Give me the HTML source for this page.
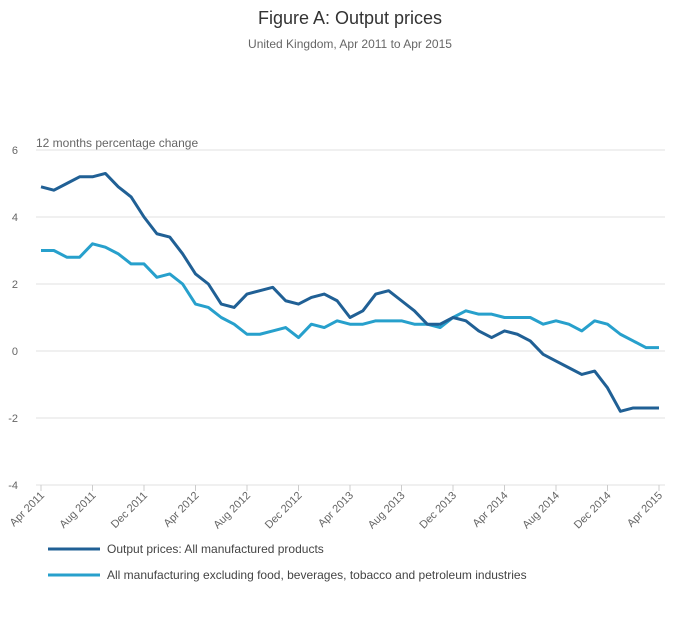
<!DOCTYPE html>
<html><head><meta charset="utf-8"><style>
body{margin:0;background:#fff;font-family:"Liberation Sans",sans-serif;}
svg text{font-family:"Liberation Sans",sans-serif;}
</style></head><body>
<svg id="chart" width="700" height="635">
<text x="350" y="24" text-anchor="middle" font-size="18" fill="#333">Figure A: Output prices</text>
<text x="350" y="48" text-anchor="middle" font-size="12" fill="#666">United Kingdom, Apr 2011 to Apr 2015</text>
<text x="36" y="147" font-size="12" fill="#666">12 months percentage change</text>
<g id="grid"></g><g id="xax"></g><g id="lines"></g>
<g>
<line x1="48" y1="549" x2="100" y2="549" stroke="#206095" stroke-width="3"/>
<text x="107" y="553" font-size="12" fill="#444">Output prices: All manufactured products</text>
<line x1="48" y1="575" x2="100" y2="575" stroke="#27a0cc" stroke-width="3"/>
<text x="107" y="579" font-size="12" fill="#444">All manufacturing excluding food, beverages, tobacco and petroleum industries</text>
</g>
</svg>
<script>
const months=["Apr 2011","Aug 2011","Dec 2011","Apr 2012","Aug 2012","Dec 2012","Apr 2013","Aug 2013","Dec 2013","Apr 2014","Aug 2014","Dec 2014","Apr 2015"];
const yTicks=[-4,-2,0,2,4,6];
const allManufactured=[4.9,4.8,5.0,5.2,5.2,5.3,4.9,4.6,4.0,3.5,3.4,2.9,2.3,2.0,1.4,1.3,1.7,1.8,1.9,1.5,1.4,1.6,1.7,1.5,1.0,1.2,1.7,1.8,1.5,1.2,0.8,0.8,1.0,0.9,0.6,0.4,0.6,0.5,0.3,-0.1,-0.3,-0.5,-0.7,-0.6,-1.1,-1.8,-1.7,-1.7,-1.7];
const excluding=[3.0,3.0,2.8,2.8,3.2,3.1,2.9,2.6,2.6,2.2,2.3,2.0,1.4,1.3,1.0,0.8,0.5,0.5,0.6,0.7,0.4,0.8,0.7,0.9,0.8,0.8,0.9,0.9,0.9,0.8,0.8,0.7,1.0,1.2,1.1,1.1,1.0,1.0,1.0,0.8,0.9,0.8,0.6,0.9,0.8,0.5,0.3,0.1,0.1];
const NS="http://www.w3.org/2000/svg";
const x=i=>41+i*(659-41)/48;
const y=v=>351-v*33.5;
function mk(t,a,p){const e=document.createElementNS(NS,t);for(const k in a)e.setAttribute(k,a[k]);p.appendChild(e);return e;}
const grid=document.getElementById('grid');
yTicks.forEach(v=>{
 const l=mk('line',{x1:36,x2:665,y1:y(v),y2:y(v),stroke:'#e0e0e0','stroke-width':1},grid);
 
 
 const t=mk('text',{x:18,y:y(v)+4,'font-size':11,fill:'#666','text-anchor':'end'},grid);
 t.textContent=v;
 
 
});
const xax=document.getElementById('xax');
months.forEach((m,k)=>{
 const xi=x(k*4);
 const tk=mk('line',{x1:xi,x2:xi,y1:485,y2:491,stroke:'#ccc'},xax);
 
 
 const t=mk('text',{x:xi+4,y:496,'font-size':11,fill:'#666','text-anchor':'end',transform:`rotate(-45 ${xi+4} 496)`},xax);
 t.textContent=m;
 
 
});
const lines=document.getElementById('lines');
[[excluding,'#27a0cc','line-excluding'],[allManufactured,'#206095','line-all-manufactured']].forEach(([d,c,n])=>{
 const p=mk('polyline',{points:d.map((v,i)=>x(i)+','+y(v)).join(' '),fill:'none',stroke:c,'stroke-width':3,'stroke-linejoin':'round'},lines);
 
 
});
</script>
</body></html>
